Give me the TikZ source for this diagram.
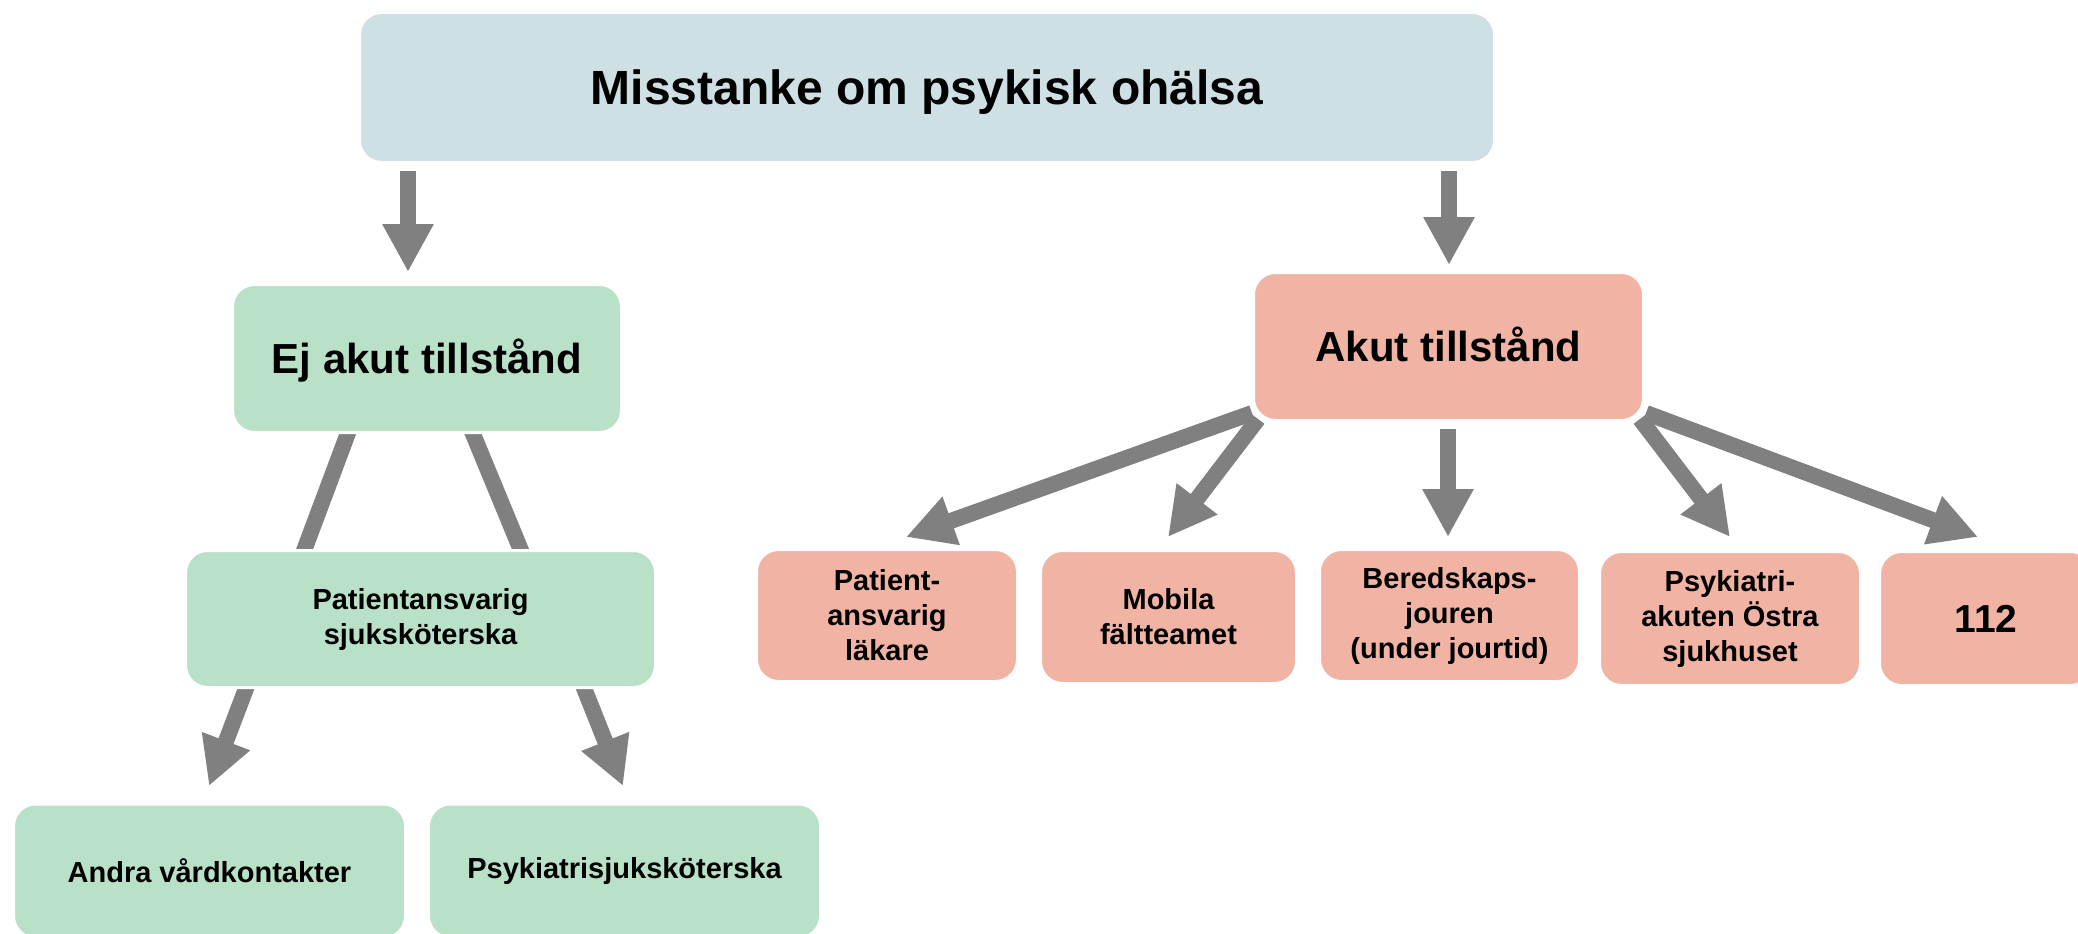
\documentclass[tikz,border=0pt]{standalone}
\usepackage{fontspec}
\setmainfont{Liberation Sans}
\usetikzlibrary{arrows.meta,backgrounds}
\definecolor{blueb}{HTML}{CFE0E5}
\definecolor{greenb}{HTML}{B9E1C8}
\definecolor{salm}{HTML}{F1B4A4}
\definecolor{arrgray}{HTML}{808080}
\tikzset{
  box/.style={rectangle, rounded corners=22pt, draw=white, line width=3pt,
    inner sep=0pt, align=center, font=\bfseries\fontsize{29}{35}\selectfont},
  bluebox/.style={box, fill=blueb},
  greenbox/.style={box, fill=greenb},
  redbox/.style={box, fill=salm},
  bigtext/.style={font=\bfseries\fontsize{42}{50}\selectfont, text height=30pt, text depth=0pt},
  arr/.style={draw=arrgray, line width=16pt, -{Triangle[width=48pt,length=48pt]}},
  ln/.style={draw=arrgray, line width=16pt},
}
\begin{document}
\begin{tikzpicture}[x=1pt,y=-1pt]
\useasboundingbox (0,0) rectangle (2078,934);
\clip (0,0) rectangle (2078,934);
% boxes
\node[bluebox, minimum width=1135pt, minimum height=150pt,
  font=\bfseries\fontsize{48}{56}\selectfont, text height=34.5pt, text depth=0pt] (mis) at (927,87.5) {Misstanke om psykisk ohälsa};
\node[greenbox, bigtext, minimum width=389pt, minimum height=148pt] (ej) at (427,358.5) {Ej akut tillstånd};
\node[redbox, bigtext, minimum width=390pt, minimum height=148pt] (akut) at (1448.5,346.5) {Akut tillstånd};
\node[greenbox, minimum width=470pt, minimum height=137pt] (sjuk) at (420.5,619) {Patientansvarig\\sjuksköterska};
\node[greenbox, minimum width=392pt, minimum height=134pt] (andra) at (209.5,871) {Andra vårdkontakter};
\node[greenbox, minimum width=392pt, minimum height=134pt] (psyk) at (624.5,871) {Psykiatrisjuksköterska};
\node[redbox, minimum width=261pt, minimum height=132pt] (lak) at (887,615.5) {Patient-\\ansvarig\\läkare};
\node[redbox, minimum width=256pt, minimum height=133pt] (mob) at (1168.5,617) {Mobila\\fältteamet};
\node[redbox, minimum width=260pt, minimum height=132pt] (bered) at (1449.5,615.5) {Beredskaps-\\jouren\\(under jourtid)};
\node[redbox, minimum width=261pt, minimum height=134pt] (pak) at (1730,618.5) {Psykiatri-\\akuten Östra\\sjukhuset};
\node[redbox, minimum width=213pt, minimum height=134pt,
  font=\bfseries\fontsize{39}{44}\selectfont, text height=28pt, text depth=0pt] (n112) at (1986,618.5) {112};
% connector end points
\coordinate (m1s) at (408,171);   \coordinate (m1e) at (408,272);
\coordinate (m2s) at (1449,171);  \coordinate (m2e) at (1449,265);
\coordinate (e1s) at (351,425);   \coordinate (e1e) at (300.5,560);
\coordinate (e2s) at (469.3,425); \coordinate (e2e) at (525,560);
\coordinate (s1s) at (250,678);   \coordinate (s1e) at (209,786);
\coordinate (s2s) at (580,678);   \coordinate (s2e) at (623,786);
\coordinate (k1s) at (1252,413);  \coordinate (k1e) at (906,537);
\coordinate (k2s) at (1258,419);  \coordinate (k2e) at (1168,537);
\coordinate (k3s) at (1448,429);  \coordinate (k3e) at (1448,537);
\coordinate (k4s) at (1640,419);  \coordinate (k4e) at (1730,537);
\coordinate (k5s) at (1646,413);  \coordinate (k5e) at (1978,537);
\begin{scope}[on background layer]
\draw[arr] (m1s) -- (m1e);
\draw[arr] (m2s) -- (m2e);
\draw[ln] (e1s) -- (e1e);
\draw[ln] (e2s) -- (e2e);
\draw[arr] (s1s) -- (s1e);
\draw[arr] (s2s) -- (s2e);
\draw[arr] (k1s) -- (k1e);
\draw[arr] (k2s) -- (k2e);
\draw[arr] (k3s) -- (k3e);
\draw[arr] (k4s) -- (k4e);
\draw[arr] (k5s) -- (k5e);
\end{scope}
\end{tikzpicture}
\end{document}
